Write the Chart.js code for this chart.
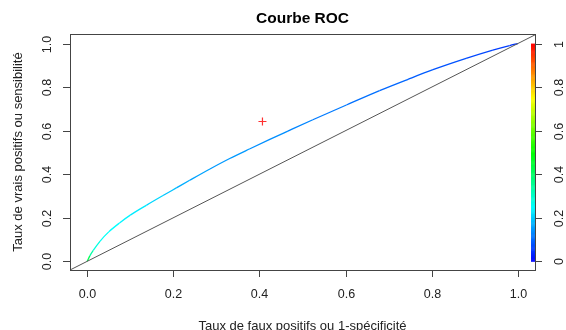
<!DOCTYPE html>
<html>
<head>
<meta charset="utf-8">
<script src="https://cdn.jsdelivr.net/npm/chart.js@4.4.1/dist/chart.umd.min.js"></script>
<style>
  html, body { margin: 0; padding: 0; background: #fff; }
  #cont { width: 566px; height: 330px; }
</style>
</head>
<body>
<div id="cont"><canvas id="canvasRoc"></canvas></div>
<script>
// Points de la courbe ROC (taux faux positifs, taux vrais positifs, seuil)
const tauxFP = [0, 0.006, 0.014, 0.03, 0.05, 0.075, 0.10, 0.138, 0.176, 0.207, 0.238, 0.285, 0.331, 0.378, 0.424, 0.466, 0.524, 0.602, 0.679, 0.745, 0.803, 0.880, 0.942, 0.981, 1];
const tauxVP = [0, 0.025, 0.05, 0.093, 0.135, 0.176, 0.212, 0.258, 0.302, 0.337, 0.372, 0.424, 0.472, 0.517, 0.560, 0.598, 0.650, 0.718, 0.784, 0.836, 0.880, 0.932, 0.970, 0.991, 1];
const seuils = [0.42, 0.34, 0.28, 0.26, 0.25, 0.24, 0.23, 0.21, 0.19, 0.17, 0.16, 0.15, 0.15, 0.14, 0.14, 0.13, 0.12, 0.11, 0.10, 0.09, 0.08, 0.07, 0.06, 0.05, 0.05];
// Point optimal
const pointOpt = [0.407, 0.642];
const ticksAxes = [0, 0.2, 0.4, 0.6, 0.8, 1.0];
const ticksCle = [0, 0.2, 0.4, 0.6, 0.8, 1];

const titre = 'Courbe ROC';
const titreX = 'Taux de faux positifs ou 1-spécificité';
const titreY = 'Taux de vrais positifs ou sensibilité';
const police = '"Liberation Sans", Arial, sans-serif';

// couleur arc-en-ciel : 0 = bleu, 1 = rouge
function couleurSeuil(v) {
    const h = 240 * (1 - Math.max(0, Math.min(1, v)));
    return 'hsl(' + h + ',100%,50%)';
}

const courbe = tauxFP.map((x, i) => ({ x: x, y: tauxVP[i] }));

// axes, boite et cle de couleurs façon R
const axesR = {
    id: 'axesR',
    afterDraw(chart) {
        const ctx = chart.ctx;
        const a = chart.chartArea;
        const sx = chart.scales.x, sy = chart.scales.y;
        ctx.save();
        ctx.strokeStyle = '#444';
        ctx.lineWidth = 1;
        ctx.strokeRect(a.left + 0.5, a.top + 0.5, a.right - a.left, a.bottom - a.top);

        ctx.fillStyle = '#222';
        ctx.font = '12.5px ' + police;
        ctx.textAlign = 'center';
        ctx.textBaseline = 'middle';
        // axe x
        ticksAxes.forEach(t => {
            const px = Math.round(sx.getPixelForValue(t)) + 0.5;
            ctx.beginPath(); ctx.moveTo(px, a.bottom); ctx.lineTo(px, a.bottom + 7); ctx.stroke();
            ctx.fillText(t.toFixed(1), px, a.bottom + 25);
        });
        // axe y
        ticksAxes.forEach(t => {
            const py = Math.round(sy.getPixelForValue(t)) + 0.5;
            ctx.beginPath(); ctx.moveTo(a.left, py); ctx.lineTo(a.left - 7, py); ctx.stroke();
            ctx.save();
            ctx.translate(a.left - 22, py);
            ctx.rotate(-Math.PI / 2);
            ctx.fillText(t.toFixed(1), 0, 0);
            ctx.restore();
        });

        // cle de couleurs a droite
        const x1 = a.right - 4, x2 = a.right;
        const yBas = sy.getPixelForValue(0), yHaut = sy.getPixelForValue(1);
        const n = 200;
        for (let i = 0; i < n; i++) {
            const v0 = i / n, v1 = (i + 1) / n;
            const p0 = sy.getPixelForValue(v0), p1 = sy.getPixelForValue(v1);
            ctx.fillStyle = couleurSeuil((v0 + v1) / 2);
            ctx.fillRect(x1, p1, x2 - x1, p0 - p1 + 0.5);
        }
        ctx.strokeStyle = '#444';
        ctx.beginPath(); ctx.moveTo(x2 + 0.5, yBas); ctx.lineTo(x2 + 0.5, yHaut); ctx.stroke();
        ctx.fillStyle = '#222';
        ticksCle.forEach(t => {
            const py = Math.round(sy.getPixelForValue(t)) + 0.5;
            ctx.beginPath(); ctx.moveTo(x2, py); ctx.lineTo(x2 + 7, py); ctx.stroke();
            ctx.save();
            ctx.translate(x2 + 25, py);
            ctx.rotate(-Math.PI / 2);
            ctx.fillText(String(t), 0, 0);
            ctx.restore();
        });

        // titres
        ctx.fillStyle = '#000';
        ctx.font = 'bold 15.5px ' + police;
        ctx.fillText(titre, (a.left + a.right) / 2, 19);
        ctx.fillStyle = '#222';
        ctx.font = '13px ' + police;
        ctx.fillText(titreX, (a.left + a.right) / 2, 326);
        ctx.save();
        ctx.translate(18, (a.top + a.bottom) / 2);
        ctx.rotate(-Math.PI / 2);
        ctx.fillText(titreY, 0, 0);
        ctx.restore();
        ctx.restore();
    }
};

const ctxRoc = document.getElementById('canvasRoc').getContext('2d');
const graficaRoc = new Chart(ctxRoc, {
    type: 'scatter',
    data: {
        datasets: [{
            label: 'diagonale',
            data: [{ x: -0.04, y: -0.04 }, { x: 1.04, y: 1.04 }],
            showLine: true,
            borderColor: '#555',
            borderWidth: 1,
            pointRadius: 0
        }, {
            label: 'ROC',
            data: courbe,
            showLine: true,
            borderWidth: 1.3,
            pointRadius: 0,
            cubicInterpolationMode: 'monotone',
            borderColor: '#3399ff',
            segment: {
                borderColor: c => couleurSeuil(seuils[c.p0DataIndex])
            }
        }, {
            label: 'optimal',
            data: [{ x: pointOpt[0], y: pointOpt[1] }],
            pointStyle: 'cross',
            pointRadius: 4,
            borderColor: '#ff3030',
            borderWidth: 1.2
        }]
    },
    options: {
        responsive: true,
        maintainAspectRatio: false,
        animation: false,
        layout: { padding: { left: 70, top: 34, right: 31, bottom: 60 } },
        plugins: { legend: { display: false }, tooltip: { enabled: false } },
        scales: {
            x: { display: false, min: -0.04, max: 1.04 },
            y: { display: false, min: -0.04, max: 1.044 }
        }
    },
    plugins: [axesR]
});
</script>
</body>
</html>
